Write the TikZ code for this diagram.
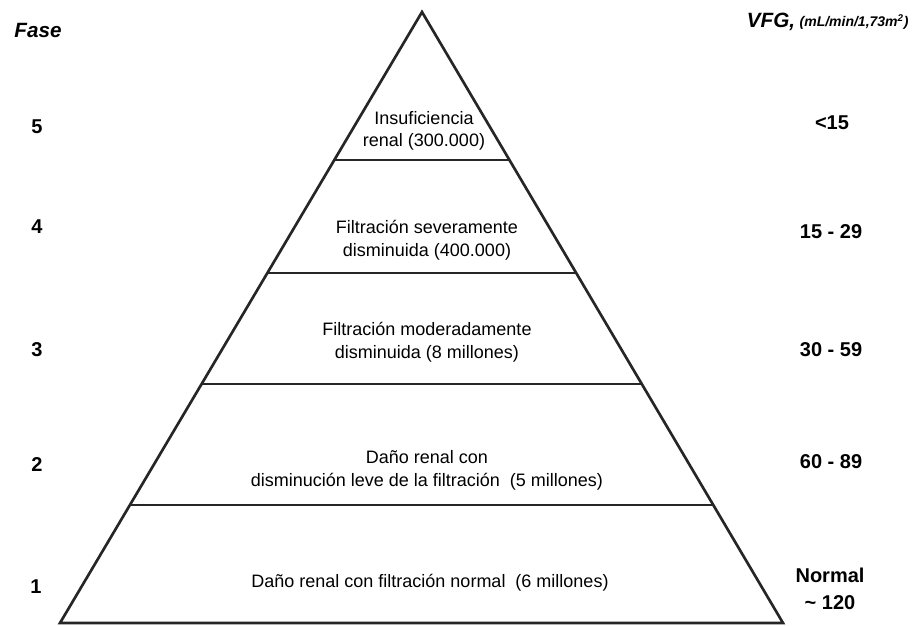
\documentclass[tikz,border=0pt]{standalone}
\usepackage{fontspec}
\setmainfont{Liberation Sans}
\usetikzlibrary{calc}

\tikzset{
	layer/.style={align=center,font=\fontsize{13.5}{17}\selectfont},
	fasenum/.style={font=\bfseries\fontsize{15}{18}\selectfont},
	vfgval/.style={align=center,font=\bfseries\fontsize{15}{20}\selectfont},
	edge/.style={line width=2pt,black!85}
}

\begin{document}
\begin{tikzpicture}[x=0.75pt,y=-0.75pt,inner sep=0pt]
	\useasboundingbox (0,0) rectangle (920,625);
	
	%pyramid outline
	\coordinate (apex) at (422,12);
	\coordinate (bl) at (60,623);
	\coordinate (br) at (783,623);
	\draw[edge,line join=miter] (bl) -- (apex) -- (br) -- cycle;
	
	%dividing lines between the phases
	\foreach \h in {160,273,384,505}{
		\draw[edge] ($(apex)!{(\h-12)/611}!(bl)$) -- ($(apex)!{(\h-12)/611}!(br)$);
	}
	
	%headers
	\node[font=\bfseries\itshape\fontsize{15.5}{18}\selectfont] (fase) at (38,30) {Fase};
	\node[font=\bfseries\itshape\fontsize{15.5}{18}\selectfont] (vfg) at (771,22) {VFG,};
	\node[font=\bfseries\itshape\fontsize{10.5}{12}\selectfont,anchor=west] (unit) at ([xshift=3pt]vfg.east) {(mL/min/1,73m\textsuperscript{2})};
	
	%text inside the pyramid
	\node[layer] (l5) at (424,131) {Insuficiencia\\renal (300.000)};
	\node[layer] (l4) at (427,240) {Filtración severamente\\disminuida (400.000)};
	\node[layer] (l3) at (427,342) {Filtración moderadamente\\disminuida (8 millones)};
	\node[layer] (l2) at (427,470) {Daño renal con\\disminución leve de la filtración\ \ (5 millones)};
	\node[layer] (l1) at (430,583) {Daño renal con filtración normal\ \ (6 millones)};
	
	%phase numbers (left)
	\node[fasenum] (f5) at (37,127) {5};
	\node[fasenum] (f4) at (37,227) {4};
	\node[fasenum] (f3) at (37,350) {3};
	\node[fasenum] (f2) at (37,465) {2};
	\node[fasenum] (f1) at (36,587) {1};
	
	%filtration values (right)
	\node[vfgval] (v5) at (832,123) {<15};
	\node[vfgval] (v4) at (831,232) {15 - 29};
	\node[vfgval] (v3) at (831,350) {30 - 59};
	\node[vfgval] (v2) at (831,462) {60 - 89};
	\node[vfgval] (v1) at (830,589) {Normal\\\textasciitilde\ 120};
	
\end{tikzpicture}
\end{document}
